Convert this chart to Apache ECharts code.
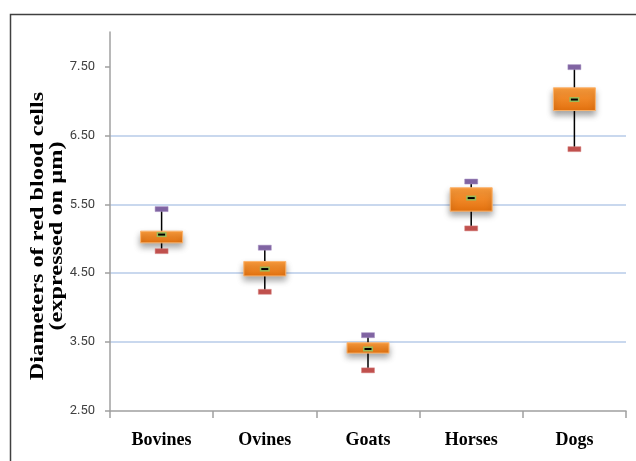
<!DOCTYPE html>
<html>
<head>
<meta charset="utf-8">
<script src="https://cdn.jsdelivr.net/npm/echarts@6/dist/echarts.min.js"></script>
<style>
html,body{margin:0;padding:0;background:#fff;}
#chart{width:636px;height:461px;}
</style>
</head>
<body>
<div id="chart"></div>
<script>
const categories = ['Bovines', 'Ovines', 'Goats', 'Horses', 'Dogs'];
const lows    = [4.82, 4.23, 3.09, 5.15, 6.30];
const q1s     = [4.94, 4.46, 3.34, 5.40, 6.86];
const medians = [5.06, 4.56, 3.40, 5.59, 7.02];
const q3s     = [5.11, 4.67, 3.49, 5.74, 7.19];
const highs   = [5.43, 4.87, 3.60, 5.83, 7.49];
const yTicks  = [2.5, 3.5, 4.5, 5.5, 6.5, 7.5];
const yTitle  = 'Diameters of red blood cells\n(expressed on µm)';

const data = categories.map((c, i) => [i, lows[i], q1s[i], medians[i], q3s[i], highs[i]]);

const chart = echarts.init(document.getElementById('chart'));

function renderItem(params, api) {
  const i = api.value(0);
  const pLow = api.coord([i, api.value(1)]);
  const pQ1 = api.coord([i, api.value(2)]);
  const pMed = api.coord([i, api.value(3)]);
  const pQ3 = api.coord([i, api.value(4)]);
  const pHigh = api.coord([i, api.value(5)]);
  const cx = pMed[0];
  const bw = 42;
  return {
    type: 'group',
    children: [
      { type: 'line', shape: { x1: cx, y1: pLow[1], x2: cx, y2: pHigh[1] },
        style: { stroke: '#000', lineWidth: 1.5 } },
      { type: 'rect', shape: { x: cx - bw / 2, y: pQ3[1], width: bw, height: pQ1[1] - pQ3[1] },
        style: {
          fill: new echarts.graphic.LinearGradient(0, 0, 0, 1, [
            { offset: 0, color: '#fd9e3e' },
            { offset: 1, color: '#e2700e' }
          ]),
          stroke: '#fbb46e', lineWidth: 1,
          shadowBlur: 6, shadowOffsetY: 4, shadowColor: 'rgba(0,0,0,0.35)'
        } },
      { type: 'rect', shape: { x: cx - 5, y: pMed[1] - 2.5, width: 10, height: 5 },
        style: { fill: '#9bbb59' } },
      { type: 'line', shape: { x1: cx - 3.5, y1: pMed[1], x2: cx + 3.5, y2: pMed[1] },
        style: { stroke: '#000', lineWidth: 2 } },
      { type: 'rect', shape: { x: cx - 6.5, y: pHigh[1] - 2.5, width: 13, height: 5 },
        style: { fill: '#8064a2', stroke: '#a58fc0', lineWidth: 0.5 } },
      { type: 'rect', shape: { x: cx - 6.5, y: pLow[1] - 2.5, width: 13, height: 5 },
        style: { fill: '#c0504d', stroke: '#d98886', lineWidth: 0.5 } }
    ]
  };
}

chart.setOption({
  animation: false,
  backgroundColor: '#fff',
  graphic: [{
    type: 'rect', left: 8, top: 12,
    shape: { width: 640, height: 470 },
    style: { fill: 'none', stroke: '#404040', lineWidth: 1.5 },
    silent: true
  }, {
    type: 'text',
    x: 48, y: 236,
    rotation: Math.PI / 2,
    scaleX: 1.35,
    style: {
      text: yTitle,
      font: 'bold 18px "Liberation Serif"',
      fill: '#000',
      align: 'center',
      verticalAlign: 'middle',
      lineHeight: 19
    },
    silent: true
  }],
  grid: { left: 110, right: 10, top: 32, bottom: 50 },
  xAxis: {
    type: 'category',
    data: categories,
    boundaryGap: true,
    axisLine: { lineStyle: { color: '#a0a0a0', width: 1.5 } },
    axisTick: { show: true, length: 7, lineStyle: { color: '#a0a0a0', width: 1.5 } },
    axisLabel: { margin: 20, fontFamily: 'Liberation Serif', fontWeight: 'bold', fontSize: 18, color: '#000' },
    splitLine: { show: false }
  },
  yAxis: {
    type: 'value',
    min: 2.5, max: 8, interval: 1,
    axisLine: { show: true, lineStyle: { color: '#a0a0a0', width: 1.5 } },
    axisTick: { show: true, length: 5, customValues: yTicks, lineStyle: { color: '#a0a0a0', width: 1.5 } },
    axisLabel: { margin: 15, customValues: yTicks, fontFamily: '"Liberation Sans Narrow", Roboto', fontSize: 13, color: '#404040',
      formatter: v => v.toFixed(2) },
    splitLine: { show: true, showMinLine: false, showMaxLine: false, lineStyle: { color: '#b7cbe8', width: 1.5 } }
  },
  series: [{
    type: 'custom',
    renderItem: renderItem,
    encode: { x: 0, y: [1, 2, 3, 4, 5] },
    data: data
  }]
});
</script>
</body>
</html>
